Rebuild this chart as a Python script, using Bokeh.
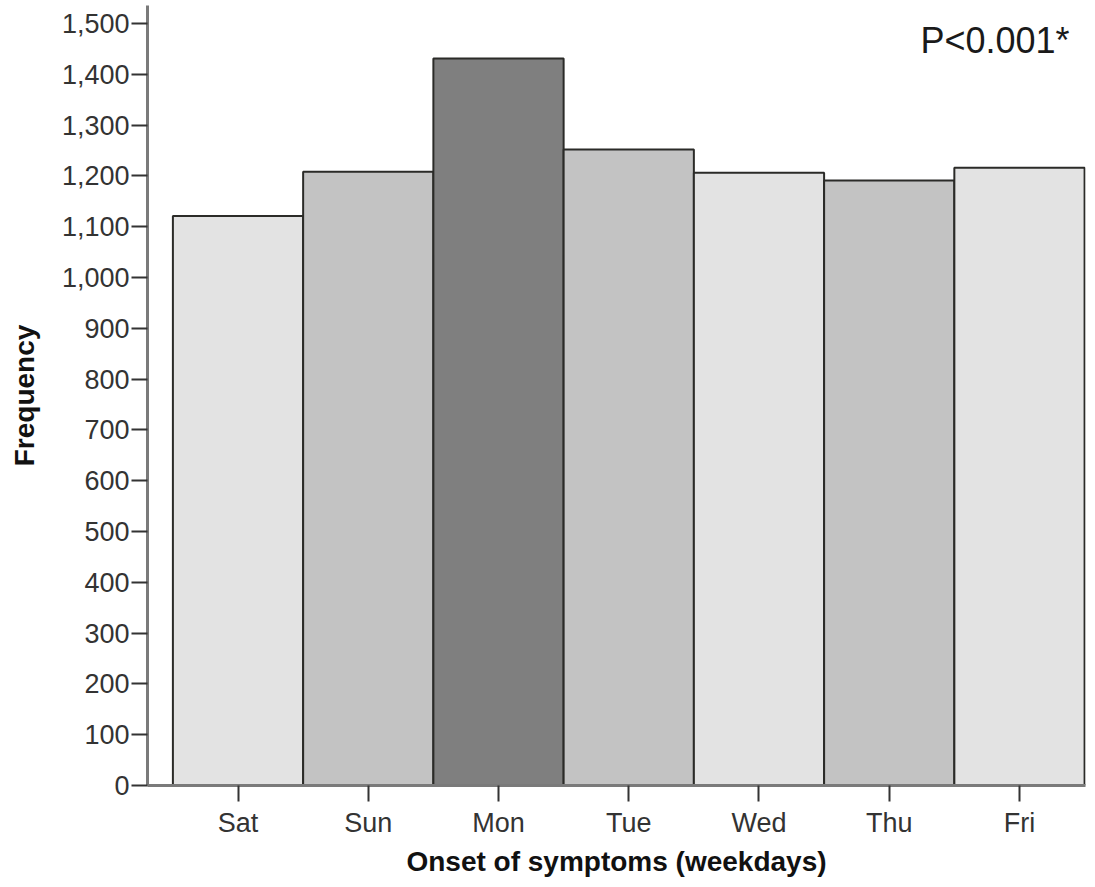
from bokeh.plotting import figure
from bokeh.models import FixedTicker, NumeralTickFormatter, Label, Range1d, ColumnDataSource
from bokeh.embed import file_html
from bokeh.resources import INLINE

days = ["Sat", "Sun", "Mon", "Tue", "Wed", "Thu", "Fri"]
frequency = [1121, 1208, 1431, 1252, 1206, 1191, 1216]
y_ticks = list(range(0, 1600, 100))
annotation = "P<0.001*"

bar_colors = ["#e3e3e3", "#c3c3c3", "#7f7f7f", "#c3c3c3", "#e3e3e3", "#c3c3c3", "#e3e3e3"]

idx = list(range(len(days)))
src = ColumnDataSource(dict(x=idx, top=frequency, color=bar_colors))

p = figure(width=1087, height=879, output_backend="svg", toolbar_location=None,
           x_range=Range1d(-0.695, 6.507), y_range=Range1d(0, 1535.4),
           min_border_left=147, min_border_right=2, min_border_top=5, min_border_bottom=93)

p.vbar(x="x", top="top", bottom=0, width=1.0, source=src, fill_color="color",
       line_color="#2b2b28", line_width=2)

p.xgrid.visible = False
p.ygrid.visible = False
p.outline_line_color = None
p.background_fill_color = "white"
p.border_fill_color = "white"

for ax in (p.xaxis[0], p.yaxis[0]):
    ax.axis_line_color = "#7a7a7a"
    ax.axis_line_width = 3
    ax.major_tick_line_color = "#333333"
    ax.major_tick_line_width = 2
    ax.major_tick_out = 16
    ax.major_tick_in = 0
    ax.minor_tick_line_color = None
    ax.major_label_text_font = "Liberation Sans"
    ax.major_label_text_font_size = "27px"
    ax.major_label_text_color = "#333333"
    ax.axis_label_text_font = "Liberation Sans"
    ax.axis_label_text_font_size = "28px"
    ax.axis_label_text_font_style = "bold"
    ax.axis_label_text_color = "#111111"

p.xaxis.ticker = FixedTicker(ticks=idx)
p.xaxis.major_label_overrides = {i: d for i, d in enumerate(days)}
p.xaxis.axis_label = "Onset of symptoms (weekdays)"
p.xaxis.major_label_standoff = 6
p.xaxis.axis_label_standoff = 5

p.yaxis.ticker = FixedTicker(ticks=y_ticks)
p.yaxis.formatter = NumeralTickFormatter(format="0,0")
p.yaxis.axis_label = "Frequency"
p.yaxis.major_label_standoff = 2
p.yaxis.axis_label_standoff = 19

p.add_layout(Label(x=5.24, y=1467, text=annotation, text_font="Liberation Sans",
                   text_font_size="36px", text_color="#1a1a1a",
                   text_align="left", text_baseline="alphabetic"))

open("out.html", "w").write(file_html(p, INLINE))
